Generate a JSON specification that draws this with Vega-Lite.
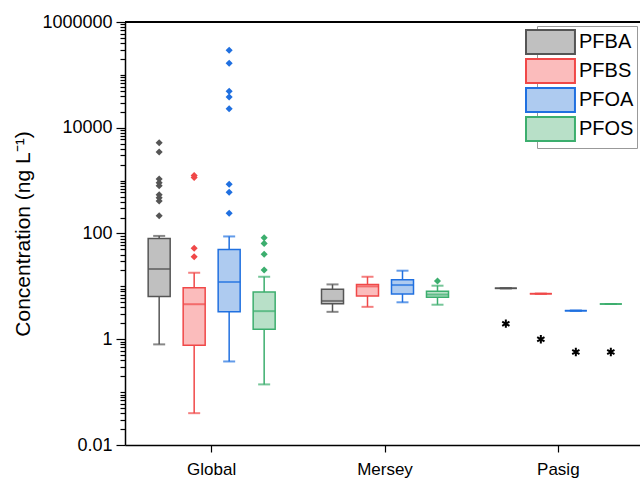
{
  "$schema": "https://vega.github.io/schema/vega-lite/v6.json",
  "width": 515,
  "height": 423,
  "autosize": {"type": "none"},
  "padding": {"left": 125, "top": 22, "right": 0, "bottom": 37},
  "datasets": {
    "boxes": [
      {"site": "Global", "type": "PFBA", "lower": 0.8, "q1": 6.4, "median": 21.3, "q3": 80, "upper": 90},
      {"site": "Global", "type": "PFBS", "lower": 0.04, "q1": 0.77, "median": 4.6, "q3": 9.4, "upper": 18.1},
      {"site": "Global", "type": "PFOA", "lower": 0.38, "q1": 3.3, "median": 12.1, "q3": 50, "upper": 88},
      {"site": "Global", "type": "PFOS", "lower": 0.14, "q1": 1.54, "median": 3.4, "q3": 7.8, "upper": 15.2},
      {"site": "Mersey", "type": "PFBA", "lower": 3.3, "q1": 4.7, "median": 5.3, "q3": 8.8, "upper": 10.9},
      {"site": "Mersey", "type": "PFBS", "lower": 4.1, "q1": 6.6, "median": 10, "q3": 10.9, "upper": 15.2},
      {"site": "Mersey", "type": "PFOA", "lower": 5.0, "q1": 7.2, "median": 10.6, "q3": 13.4, "upper": 19.8},
      {"site": "Mersey", "type": "PFOS", "lower": 4.5, "q1": 6.2, "median": 7.0, "q3": 8.1, "upper": 10.3},
      {"site": "Pasig", "type": "PFBA", "lower": 9.2, "q1": 9.2, "median": 9.2, "q3": 9.2, "upper": 9.2},
      {"site": "Pasig", "type": "PFBS", "lower": 7.26, "q1": 7.26, "median": 7.26, "q3": 7.26, "upper": 7.26},
      {"site": "Pasig", "type": "PFOA", "lower": 3.47, "q1": 3.47, "median": 3.47, "q3": 3.47, "upper": 3.47},
      {"site": "Pasig", "type": "PFOS", "lower": 4.64, "q1": 4.64, "median": 4.64, "q3": 4.64, "upper": 4.64}
    ],
    "outliers": [
      {"site": "Global", "type": "PFBA", "value": 5220},
      {"site": "Global", "type": "PFBA", "value": 3480},
      {"site": "Global", "type": "PFBA", "value": 1070},
      {"site": "Global", "type": "PFBA", "value": 914},
      {"site": "Global", "type": "PFBA", "value": 802},
      {"site": "Global", "type": "PFBA", "value": 542},
      {"site": "Global", "type": "PFBA", "value": 476},
      {"site": "Global", "type": "PFBA", "value": 412},
      {"site": "Global", "type": "PFBA", "value": 217},
      {"site": "Global", "type": "PFBS", "value": 1250},
      {"site": "Global", "type": "PFBS", "value": 1150},
      {"site": "Global", "type": "PFBS", "value": 52.5},
      {"site": "Global", "type": "PFBS", "value": 36.4},
      {"site": "Global", "type": "PFOA", "value": 291700},
      {"site": "Global", "type": "PFOA", "value": 165600},
      {"site": "Global", "type": "PFOA", "value": 48900},
      {"site": "Global", "type": "PFOA", "value": 38200},
      {"site": "Global", "type": "PFOA", "value": 22900},
      {"site": "Global", "type": "PFOA", "value": 851},
      {"site": "Global", "type": "PFOA", "value": 602},
      {"site": "Global", "type": "PFOA", "value": 241},
      {"site": "Global", "type": "PFOS", "value": 83},
      {"site": "Global", "type": "PFOS", "value": 65},
      {"site": "Global", "type": "PFOS", "value": 40.4},
      {"site": "Global", "type": "PFOS", "value": 20.4},
      {"site": "Mersey", "type": "PFOS", "value": 12.6}
    ],
    "stars": [
      {"site": "Pasig", "type": "PFBA", "value": 1.97},
      {"site": "Pasig", "type": "PFBS", "value": 1.0},
      {"site": "Pasig", "type": "PFOA", "value": 0.574},
      {"site": "Pasig", "type": "PFOS", "value": 0.574}
    ]
  },
  "layer": [
    {
      "data": {"name": "stars"},
      "mark": {"type": "rule", "color": "black", "strokeWidth": 1.5},
      "encoding": {
        "y": {
          "datum": 1000000,
          "type": "quantitative",
          "scale": {"type": "log", "domain": [0.01, 1000000], "nice": false},
          "axis": {
            "title": "Concentration (ng L⁻¹)",
            "values": [0.01, 0.02, 0.03, 0.04, 0.05, 0.06, 0.07, 0.08, 0.09, 0.1, 0.2, 0.3, 0.4, 0.5, 0.6, 0.7, 0.8, 0.9, 1, 2, 3, 4, 5, 6, 7, 8, 9, 10, 20, 30, 40, 50, 60, 70, 80, 90, 100, 200, 300, 400, 500, 600, 700, 800, 900, 1000, 2000, 3000, 4000, 5000, 6000, 7000, 8000, 9000, 10000, 20000, 30000, 40000, 50000, 60000, 70000, 80000, 90000, 100000, 200000, 300000, 400000, 500000, 600000, 700000, 800000, 900000, 1000000],
            "format": "~f",
            "labelExpr": "indexof([0.01, 1, 100, 10000, 1000000], datum.value) >= 0 ? datum.label : ''",
            "labelOverlap": false,
            "labelBound": false,
            "tickSize": {"condition": {"test": "indexof([0.01, 1, 100, 10000, 1000000], datum.value) >= 0", "value": 9}, "value": 5},
            "labelPadding": 4,
            "labelFontSize": 18,
            "titleFontSize": 21,
            "titlePadding": 8,
            "grid": false
          }
        }
      }
    },
    {
      "data": {"name": "boxes"},
      "mark": {"type": "rule", "strokeWidth": 1.5},
      "encoding": {
        "x": {"field": "site", "type": "nominal", "sort": ["Global", "Mersey", "Pasig"],
              "scale": {"range": [0, 520], "paddingInner": 0, "paddingOuter": 0},
              "axis": {"title": null, "labelAngle": 0, "labelFontSize": 17, "tickSize": 7, "labelPadding": 9}},
        "xOffset": {"field": "type", "sort": ["PFBA", "PFBS", "PFOA", "PFOS"], "scale": {"paddingInner": 0.371, "paddingOuter": 0.662}},
        "y": {"field": "lower", "type": "quantitative"},
        "y2": {"field": "upper"},
        "stroke": {"field": "type", "type": "nominal",
                   "scale": {"domain": ["PFBA", "PFBS", "PFOA", "PFOS"], "range": ["#555555", "#f04848", "#2070e0", "#3cae6e"]},
                   "legend": {"title": null, "orient": "none", "legendX": 412, "legendY": 4, "symbolType": "M-2.25,-1H1.83V1H-2.25Z", "symbolSize": 576, "symbolStrokeWidth": 2, "labelFontSize": 20, "labelOffset": 13, "labelExpr": "datum.label + '\u00a0\u00a0\u00a0'", "strokeColor": "#999999", "fillColor": "white", "padding": 3, "rowPadding": -7}}
      }
    },
    {
      "data": {"name": "boxes"},
      "mark": {"type": "bar", "strokeWidth": 1.5},
      "encoding": {
        "x": {"field": "site", "type": "nominal", "sort": ["Global", "Mersey", "Pasig"]},
        "xOffset": {"field": "type", "sort": ["PFBA", "PFBS", "PFOA", "PFOS"]},
        "y": {"field": "q1", "type": "quantitative"},
        "y2": {"field": "q3"},
        "fill": {"field": "type", "type": "nominal",
                 "scale": {"domain": ["PFBA", "PFBS", "PFOA", "PFOS"], "range": ["#c0c0c0", "#fbbcbc", "#aecbf0", "#b8e0c8"]},
                 "legend": {"title": null, "orient": "none", "legendX": 412, "legendY": 4, "symbolType": "M-2.25,-1H1.83V1H-2.25Z", "symbolSize": 576, "symbolStrokeWidth": 2, "labelFontSize": 20, "labelOffset": 13, "labelExpr": "datum.label + '\u00a0\u00a0\u00a0'", "strokeColor": "#999999", "fillColor": "white", "padding": 3, "rowPadding": -7}},
        "stroke": {"field": "type", "type": "nominal"}
      }
    },
    {
      "data": {"name": "boxes"},
      "mark": {"type": "tick", "thickness": 2, "size": 22},
      "encoding": {
        "x": {"field": "site", "type": "nominal", "sort": ["Global", "Mersey", "Pasig"]},
        "xOffset": {"field": "type", "sort": ["PFBA", "PFBS", "PFOA", "PFOS"]},
        "y": {"field": "median", "type": "quantitative"},
        "color": {"field": "type", "type": "nominal",
                  "scale": {"domain": ["PFBA", "PFBS", "PFOA", "PFOS"], "range": ["#555555", "#f04848", "#2070e0", "#3cae6e"]},
                  "legend": null}
      }
    },
    {
      "data": {"name": "boxes"},
      "mark": {"type": "tick", "thickness": 2, "size": 12},
      "encoding": {
        "x": {"field": "site", "type": "nominal", "sort": ["Global", "Mersey", "Pasig"]},
        "xOffset": {"field": "type", "sort": ["PFBA", "PFBS", "PFOA", "PFOS"]},
        "y": {"field": "lower", "type": "quantitative"},
        "color": {"field": "type", "type": "nominal", "legend": null}
      }
    },
    {
      "data": {"name": "boxes"},
      "mark": {"type": "tick", "thickness": 2, "size": 12},
      "encoding": {
        "x": {"field": "site", "type": "nominal", "sort": ["Global", "Mersey", "Pasig"]},
        "xOffset": {"field": "type", "sort": ["PFBA", "PFBS", "PFOA", "PFOS"]},
        "y": {"field": "upper", "type": "quantitative"},
        "color": {"field": "type", "type": "nominal", "legend": null}
      }
    },
    {
      "data": {"name": "outliers"},
      "mark": {"type": "point", "shape": "diamond", "filled": true, "size": 50, "opacity": 1},
      "encoding": {
        "x": {"field": "site", "type": "nominal", "sort": ["Global", "Mersey", "Pasig"]},
        "xOffset": {"field": "type", "sort": ["PFBA", "PFBS", "PFOA", "PFOS"]},
        "y": {"field": "value", "type": "quantitative"},
        "color": {"field": "type", "type": "nominal", "legend": null}
      }
    },
    {
      "data": {"name": "stars"},
      "mark": {"type": "point", "shape": "M0,-1V1M-0.87,-0.5L0.87,0.5M-0.87,0.5L0.87,-0.5", "filled": false, "stroke": "black", "strokeWidth": 2, "size": 70, "opacity": 1},
      "encoding": {
        "x": {"field": "site", "type": "nominal", "sort": ["Global", "Mersey", "Pasig"]},
        "xOffset": {"field": "type", "sort": ["PFBA", "PFBS", "PFOA", "PFOS"]},
        "y": {"field": "value", "type": "quantitative"}
      }
    }
  ],
  "config": {
    "font": "Liberation Sans",
    "view": {"stroke": null},
    "axis": {
      "domainColor": "black",
      "domainWidth": 1.5,
      "tickColor": "black",
      "tickWidth": 1.2,
      "labelColor": "black",
      "titleColor": "black",
      "titleFontWeight": "normal",
      "labelFont": "Liberation Sans",
      "titleFont": "Liberation Sans"
    },
    "legend": {"labelColor": "black", "labelFont": "Liberation Sans"}
  }
}
